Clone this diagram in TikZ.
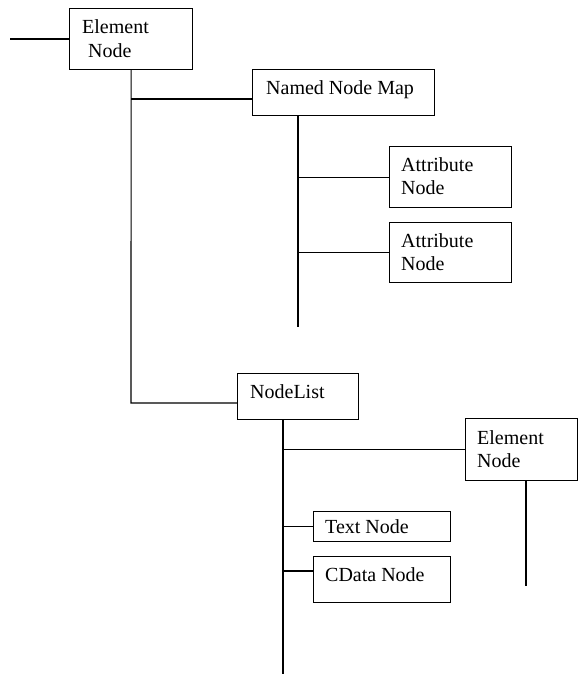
\documentclass[tikz,border=0pt]{standalone}
\usepackage{fontspec}
\setmainfont{Liberation Serif}
\begin{document}
\begin{tikzpicture}[x=1pt,y=-1pt,
  box/.style={draw, line width=1.2pt, anchor=north west, inner sep=0pt},
  txt/.style={anchor=base west, inner sep=0pt, font=\fontsize{20}{24}\selectfont},
  conn/.style={line width=1.1pt}]
\useasboundingbox[fill=white] (0,0) rectangle (578,675);
% boxes
\node[box, minimum width=123pt, minimum height=61pt] (e1) at (69,8) {};
\node[box, minimum width=182pt, minimum height=46pt] (nnm) at (252,69) {};
\node[box, minimum width=122pt, minimum height=61pt] (a1) at (389,146) {};
\node[box, minimum width=122pt, minimum height=60pt] (a2) at (389,222) {};
\node[box, minimum width=121pt, minimum height=46pt] (nl) at (237,373) {};
\node[box, minimum width=112pt, minimum height=62pt] (e2) at (465,418) {};
\node[box, minimum width=137pt, minimum height=30pt] (tn) at (313,511) {};
\node[box, minimum width=137pt, minimum height=46pt] (cd) at (313,556) {};
% texts
\node[txt] (e1a) at (82,33) {Element};
\node[txt] (e1b) at (88,57) {Node};
\node[txt] (nnmt) at (266,94) {Named Node Map};
\node[txt] (a1a) at (401,171) {Attribute};
\node[txt] (a1b) at (401,194) {Node};
\node[txt] (a2a) at (401,247) {Attribute};
\node[txt] (a2b) at (401,270) {Node};
\node[txt] (nlt) at (250,398) {NodeList};
\node[txt] (e2a) at (477,444) {Element};
\node[txt] (e2b) at (477,467) {Node};
\node[txt] (tnt) at (325,533) {Text Node};
\node[txt] (cdt) at (325,581) {CData Node};
% junction coordinates
\coordinate (l0) at (10,39);
\coordinate (j1) at (131,99);
\coordinate (j2) at (131,403);
\coordinate (v2t) at (298,115);
\coordinate (v2b) at (298,327);
\coordinate (v3t) at (283,419);
\coordinate (v3b) at (283,674);
\coordinate (cdj) at (283,571);
\coordinate (v4t) at (526,480);
\coordinate (v4b) at (526,586);
% connectors
\draw[conn] (l0) -- (e1.west |- l0);
\draw[conn] (e1.south) -- (j2) -- (j2 -| nl.west);
\draw[conn] (j1) -- (j1 -| nnm.west);
\draw[conn] (v2t) -- (v2b);
\draw[conn] (a1.west -| v2t) -- (a1.west);
\draw[conn] (a2.west -| v2t) -- (a2.west);
\draw[conn] (v3t) -- (v3b);
\draw[conn] (e2.west -| v3t) -- (e2.west);
\draw[conn] (tn.west -| v3t) -- (tn.west);
\draw[conn] (cdj) -- (cdj -| cd.west);
\draw[conn] (v4t) -- (v4b);
\end{tikzpicture}
\end{document}
